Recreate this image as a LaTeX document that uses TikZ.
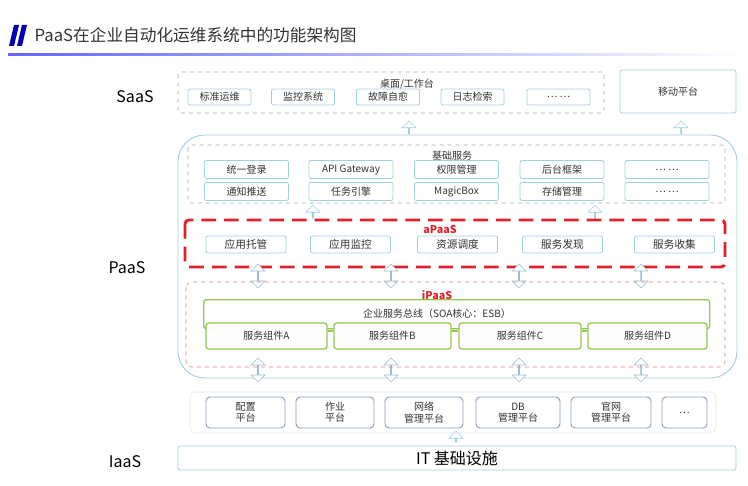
\documentclass[tikz,border=0pt]{standalone}
\usepackage{fontspec}
\setmainfont{Noto Sans CJK SC}
\usetikzlibrary{shapes.arrows}
\newdimen\pxu \pxu=0.75pt
\definecolor{lblue}{HTML}{9FCFE0}
\definecolor{ggreen}{HTML}{92C84E}
\definecolor{rred}{HTML}{E0202A}
\definecolor{tgray}{HTML}{333333}
\definecolor{opsbd}{HTML}{8A9CC0}
\tikzset{
  box/.style={draw=lblue,fill=white,rounded corners=1.5pt,line width=0.6pt,inner sep=0pt,
    font=\fontsize{7.5}{8}\selectfont,text=tgray},
  gbox/.style={draw=ggreen,fill=white,rounded corners=2pt,line width=1pt,inner sep=0pt,
    font=\fontsize{7.5}{8}\selectfont,text=tgray},
  opsbox/.style={draw=opsbd,fill=white,rounded corners=3pt,line width=0.7pt,inner sep=0pt,
    align=center,font=\fontsize{7.5}{8.5}\selectfont,text=tgray,minimum height=31\pxu},
  uparrow/.style={single arrow,draw=lblue,fill=white,shape border rotate=90,
    minimum height=13\pxu,minimum width=14\pxu,single arrow head extend=3.5\pxu,inner sep=0pt},
  dblarrow/.style={double arrow,draw=lblue!80!gray,fill=white,shape border rotate=90,
    minimum height=24\pxu,minimum width=14\pxu,double arrow head extend=3.5\pxu,inner sep=0pt},
  layer/.style={font=\fontsize{12}{12}\selectfont,text=black},
  ttl/.style={font=\fontsize{7.5}{8}\selectfont,text=tgray}
}
\begin{document}
\begin{tikzpicture}[x=0.75pt,y=-0.75pt]
\useasboundingbox (0,0) rectangle (748,485);
% title
\fill[blue!70!black] (14,25) -- (19,25) -- (14,46) -- (9,46) -- cycle;
\fill[blue!70!black] (22,25) -- (27,25) -- (22,46) -- (17,46) -- cycle;
\node[anchor=west,font=\fontsize{12.5}{13}\selectfont,text=tgray] (title) at (30,35) {PaaS在企业自动化运维系统中的功能架构图};
\shade[left color=blue!60,right color=white] (8,54) rectangle (740,55.2);
% layer names
\node[layer] (saas) at (135,97) {SaaS};
\node[layer] (paas) at (127,268) {PaaS};
\node[layer] (iaas) at (125,462) {IaaS};

% SaaS
\draw[gray!70,dashed,rounded corners=2pt] (178,72) rectangle (604,113);
\node[ttl] (desk) at (407,84) {桌面/工作台};
\node[box,minimum width=63\pxu,minimum height=16\pxu] (s1) at (219.5,97) {标准运维};
\node[box,minimum width=63\pxu,minimum height=16\pxu] (s2) at (303,97) {监控系统};
\node[box,minimum width=63\pxu,minimum height=16\pxu] (s3) at (388,97) {故障自愈};
\node[box,minimum width=63\pxu,minimum height=16\pxu] (s4) at (472.5,97) {日志检索};
\node[box,minimum width=63\pxu,minimum height=16\pxu] (s5) at (558.5,97) {… …};
\node[box,minimum width=116\pxu,minimum height=43\pxu] (mobile) at (678,91.5) {移动平台};
\node[uparrow] (a1) at (409,127.5) {};
\node[uparrow] (a2) at (681,127.5) {};

% PaaS
\draw[lblue,line width=0.7pt,rounded corners=20pt] (178,135) rectangle (737,378);
\draw[gray!70,dashed,rounded corners=2pt] (188,145) rectangle (725,203);
\node[ttl] (base) at (452,156) {基础服务};
\foreach \n/\cx/\ta/\tb in {1/246.5/统一登录/通知推送,2/351/API Gateway/任务引擎,
    3/456.5/权限管理/MagicBox,4/562/后台框架/存储管理,5/667/… …/… …}{
  \node[box,minimum width=84\pxu,minimum height=18\pxu] (b\n a) at (\cx,169.5) {\ta};
  \node[box,minimum width=84\pxu,minimum height=18\pxu] (b\n b) at (\cx,191.5) {\tb};
}
\node[uparrow] (a3) at (313,212) {};
\node[uparrow] (a4) at (595,212) {};

% aPaaS
\draw[rred,line width=2.2pt,dash pattern=on 11pt off 6pt,rounded corners=3pt] (185,220) rectangle (725,267);
\node[font=\fontsize{8}{8}\selectfont\bfseries,text=rred] (apaas) at (440,230) {aPaaS};
\foreach \n/\cx/\t in {1/246/应用托管,2/350.5/应用监控,3/457.5/资源调度,4/562.5/服务发现,5/674.5/服务收集}
  \node[box,minimum width=80\pxu,minimum height=17\pxu,font=\fontsize{8}{8}\selectfont] (ap\n) at (\cx,244.5) {\t};

% iPaaS
\foreach \n/\cx in {1/258,2/391,3/519,4/641}{
  \node[dblarrow] (d\n) at (\cx,276) {};
  \node[dblarrow] (e\n) at (\cx,370) {};
}
\draw[rred!60,dashed,rounded corners=4pt] (186,282) rectangle (725,367);
\node[font=\fontsize{8}{8}\selectfont\bfseries,text=rred] (ipaas) at (437,295) {iPaaS};
\node[gbox,minimum width=506\pxu,minimum height=29\pxu,anchor=north west] (esb) at (203,299) {};
\node[font=\fontsize{7.5}{8}\selectfont,text=tgray] (esbt) at (437,314) {企业服务总线（SOA核心：ESB）};
\node[gbox,minimum width=121\pxu,minimum height=26\pxu] (ca) at (266.5,336) {服务组件A};
\node[gbox,minimum width=117\pxu,minimum height=26\pxu] (cb) at (392.5,336) {服务组件B};
\node[gbox,minimum width=122\pxu,minimum height=26\pxu] (cc) at (520,336) {服务组件C};
\node[gbox,minimum width=119\pxu,minimum height=26\pxu] (cd) at (647.5,336) {服务组件D};
\draw[ggreen,line width=1pt] (ca.east) ++(0,-5) -- ([yshift=5\pxu]cb.west);
\draw[ggreen,line width=1pt] (cb.east) ++(0,-5) -- ([yshift=5\pxu]cc.west);
\draw[ggreen,line width=1pt] (cc.east) ++(0,-5) -- ([yshift=5\pxu]cd.west);

% ops platforms
\draw[gray!20,rounded corners=4pt] (190,392) rectangle (716,433);
\node[opsbox,minimum width=79\pxu] (o1) at (245.5,412.5) {配置\\平台};
\node[opsbox,minimum width=78\pxu] (o2) at (335,412.5) {作业\\平台};
\node[opsbox,minimum width=78\pxu] (o3) at (424,412.5) {网络\\管理平台};
\node[opsbox,minimum width=84\pxu] (o4) at (518,412.5) {DB\\管理平台};
\node[opsbox,minimum width=80\pxu] (o5) at (611,412.5) {官网\\管理平台};
\node[opsbox,minimum width=45\pxu] (o6) at (684.5,412.5) {…};
\node[uparrow,minimum height=11\pxu] (a5) at (456,437) {};

% IaaS
\node[box,minimum width=558\pxu,minimum height=24\pxu,font=\fontsize{12}{12}\selectfont,text=black] (it) at (457,458) {IT 基础设施};
\end{tikzpicture}
\end{document}
